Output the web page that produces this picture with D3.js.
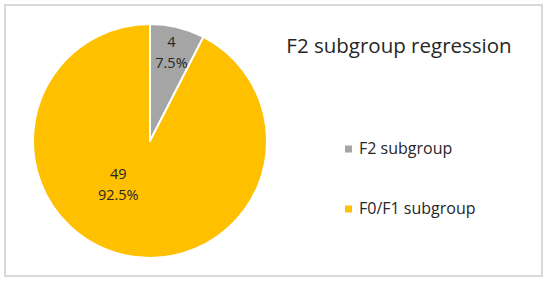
<!DOCTYPE html>
<html>
<head>
<meta charset="utf-8">
<script src="https://cdn.jsdelivr.net/npm/d3@7"></script>
<style>
  html, body { margin: 0; padding: 0; background: #fff; }
  svg { display: block; }
</style>
</head>
<body>
<div id="chart"></div>
<script>
// ── Data ──
var categories = ['F2 subgroup', 'F0/F1 subgroup'];
var counts = [4, 49];
var percents = ['7.5%', '92.5%'];
var colors = ['#a5a5a5', '#ffc000'];
var TITLE = 'F2 subgroup regression';

var WIDTH = 550, HEIGHT = 282;
var FONT = 'Open Sans, Liberation Sans, sans-serif';
var CX = 150, CY = 141, R = 117;

var svg = d3.select('#chart').append('svg')
  .attr('width', WIDTH)
  .attr('height', HEIGHT);

// frame
svg.append('rect')
  .attr('x', 5).attr('y', 5)
  .attr('width', 537).attr('height', 271)
  .attr('fill', '#fff')
  .attr('stroke', '#d9d9d9')
  .attr('stroke-width', 2);

var data = categories.map(function (c, i) {
  return { name: c, value: counts[i], pct: percents[i], color: colors[i] };
});

var pie = d3.pie().sort(null).value(function (d) { return d.value; });
var arc = d3.arc().innerRadius(0).outerRadius(R);

var g = svg.append('g').attr('transform', 'translate(' + CX + ',' + CY + ')');
var arcs = pie(data);

g.selectAll('path.slice')
  .data(arcs)
  .join('path')
  .attr('class', 'slice')
  .attr('d', arc)
  .attr('fill', function (d) { return d.data.color; })
  .attr('stroke', '#fff')
  .attr('stroke-width', 2)
  .attr('stroke-linejoin', 'round');

// data labels: centroid at a per-slice radius, nudged like Excel does
var labelRadius = [0.78, 0.5];
var labelNudge = [[0, 0], [-18, -14]];

var labels = g.selectAll('g.lbl')
  .data(arcs)
  .join('g')
  .attr('class', 'lbl')
  .attr('transform', function (d, i) {
    var r = R * labelRadius[i];
    var c = d3.arc().innerRadius(r).outerRadius(r).centroid(d);
    return 'translate(' + (c[0] + labelNudge[i][0]) + ',' + (c[1] + labelNudge[i][1]) + ')';
  });

labels.append('text')
  .attr('text-anchor', 'middle')
  .attr('y', -5)
  .attr('font-family', FONT)
  .attr('font-size', 14.5)
  .attr('fill', '#262626')
  .text(function (d) { return d.data.value; });

labels.append('text')
  .attr('text-anchor', 'middle')
  .attr('y', 16)
  .attr('font-family', FONT)
  .attr('font-size', 14.5)
  .attr('fill', '#262626')
  .text(function (d) { return d.data.pct; });

// title
svg.append('text')
  .attr('x', 399).attr('y', 53)
  .attr('text-anchor', 'middle')
  .attr('font-family', FONT)
  .attr('font-size', 20.5)
  .attr('fill', '#262626')
  .text(TITLE);

// legend
var legend = svg.selectAll('g.legend')
  .data(data)
  .join('g')
  .attr('class', 'legend')
  .attr('transform', function (d, i) { return 'translate(345,' + (149 + i * 60) + ')'; });

legend.append('rect')
  .attr('x', 0).attr('y', -3.5)
  .attr('width', 7).attr('height', 7)
  .attr('fill', function (d) { return d.color; });

legend.append('text')
  .attr('x', 14).attr('y', 5)
  .attr('font-family', FONT)
  .attr('font-size', 16)
  .attr('fill', '#262626')
  .text(function (d) { return d.name; });
</script>
</body>
</html>
